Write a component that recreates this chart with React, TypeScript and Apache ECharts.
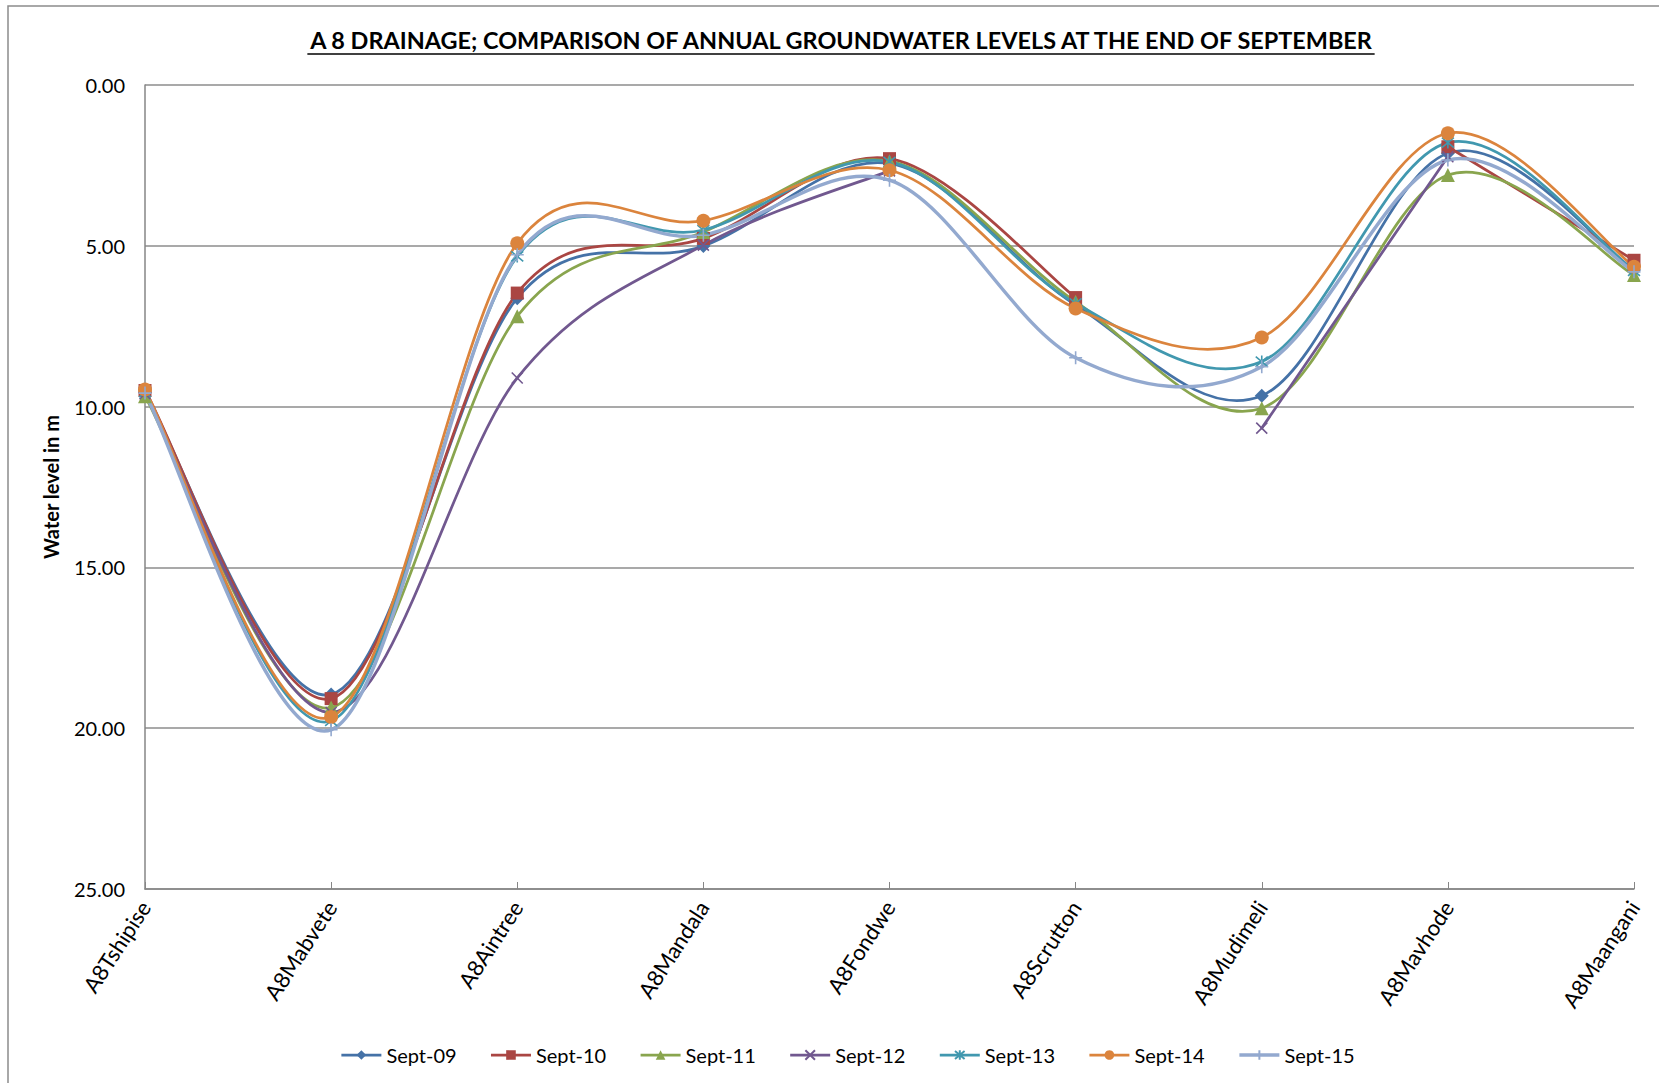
import React, { useEffect, useRef } from "react";
import * as echarts from "echarts";

const categories = [
  "A8Tshipise",
  "A8Mabvete",
  "A8Aintree",
  "A8Mandala",
  "A8Fondwe",
  "A8Scrutton",
  "A8Mudimeli",
  "A8Mavhode",
  "A8Maangani",
];

const sept09 = [9.55, 18.95, 6.63, 5.01, 2.44, 6.84, 9.66, 2.12, 5.75];
const sept10 = [9.5, 19.08, 6.47, 4.77, 2.29, 6.61, null, 1.92, 5.45];
const sept11 = [9.68, 19.36, 7.19, 4.57, 2.37, 6.74, 10.05, 2.8, 5.91];
const sept12 = [9.6, 19.51, 9.11, 4.98, 2.67, null, 10.67, 2.23, null];
const sept13 = [9.55, 19.77, 5.33, 4.51, 2.39, 6.79, 8.6, 1.79, 5.78];
const sept14 = [9.47, 19.65, 4.92, 4.22, 2.65, 6.95, 7.85, 1.5, 5.65];
const sept15 = [9.58, 20.05, 5.28, 4.67, 2.96, 8.48, 8.76, 2.33, 5.81];

const seriesNames = ["Sept-09", "Sept-10", "Sept-11", "Sept-12", "Sept-13", "Sept-14", "Sept-15"];
const seriesData: (number | null)[][] = [sept09, sept10, sept11, sept12, sept13, sept14, sept15];
const colors = ["#4572A7", "#AA4643", "#89A54E", "#71588F", "#4198AF", "#DB843D", "#93A9CF"];
const symbols = [
  "diamond",
  "rect",
  "triangle",
  "path://M0,0L10,10M10,0L0,10",
  "path://M0,0L10,10M10,0L0,10M5,-1L5,11",
  "circle",
  "path://M5,0L5,10M0,5L10,5",
];
const symbolSizes = [14, 13, 14, 11, 12, 14, 13];
const isStroked = [false, false, false, true, true, false, true];
const lineWidths = [2.75, 2.75, 2.75, 2.75, 2.75, 2.75, 3.5];

const TITLE = "A 8 DRAINAGE; COMPARISON OF ANNUAL GROUNDWATER LEVELS AT THE END OF SEPTEMBER";
const FONT = "Lato, 'Open Sans', sans-serif";

export default function App() {
  const ref = useRef<HTMLDivElement>(null);

  useEffect(() => {
    if (!ref.current) return;
    const chart = echarts.init(ref.current, undefined, { renderer: "svg" });

    const ctx = document.createElement("canvas").getContext("2d");
    let titleSize = 22;
    let titleWidth = 1068;
    if (ctx) {
      ctx.font = `bold 100px Lato`;
      const w = ctx.measureText(TITLE).width;
      titleSize = (100 * 1068) / w;
      ctx.font = `bold ${titleSize}px Lato`;
      titleWidth = ctx.measureText(TITLE).width;
    }
    const titleCx = 841;
    const titleCy = 40;

    const series: any[] = [];
    seriesNames.forEach((name, k) => {
      const vals = seriesData[k];
      const n = vals.length;
      // smoothed curve (Catmull-Rom style Bezier, like the spreadsheet's smoothing)
      series.push({
        name: name + " curve",
        type: "custom",
        silent: true,
        data: vals.map((v, i) => [i, v == null ? "-" : v]),
        renderItem: (params: any, api: any) => {
          const i = params.dataIndex;
          if (vals[i] == null || i + 1 >= n || vals[i + 1] == null) return null;
          const pt = (j: number) => api.coord([j, vals[j]]);
          const p1 = pt(i);
          const p2 = pt(i + 1);
          const p0 = i - 1 >= 0 && vals[i - 1] != null ? pt(i - 1) : p1;
          const p3 = i + 2 < n && vals[i + 2] != null ? pt(i + 2) : p2;
          return {
            type: "bezierCurve",
            shape: {
              x1: p1[0],
              y1: p1[1],
              x2: p2[0],
              y2: p2[1],
              cpx1: p1[0] + (p2[0] - p0[0]) / 6,
              cpy1: p1[1] + (p2[1] - p0[1]) / 6,
              cpx2: p2[0] - (p3[0] - p1[0]) / 6,
              cpy2: p2[1] - (p3[1] - p1[1]) / 6,
            },
            style: { stroke: colors[k], lineWidth: lineWidths[k], fill: "none", lineCap: "round" },
          };
        },
      });
      // markers (and legend entry)
      series.push({
        name,
        type: "line",
        data: vals,
        connectNulls: false,
        symbol: symbols[k],
        symbolSize: symbolSizes[k],
        showAllSymbol: true,
        lineStyle: { color: colors[k], width: lineWidths[k], opacity: 0 },
        itemStyle: isStroked[k]
          ? { color: colors[k], borderColor: colors[k], borderWidth: 1.6 }
          : { color: colors[k], borderWidth: 0 },
        emphasis: { disabled: true },
      });
    });

    chart.setOption({
      animation: false,
      textStyle: { fontFamily: FONT },
      grid: { left: 145, right: 25, top: 85, bottom: 194, containLabel: false },
      graphic: [
        {
          type: "rect",
          shape: { x: 8, y: 6, width: 1700, height: 1200 },
          style: { fill: "none", stroke: "#8c8c8c", lineWidth: 1.5 },
          silent: true,
        },
        {
          type: "text",
          x: titleCx,
          y: titleCy,
          style: {
            text: TITLE,
            font: `bold ${titleSize}px Lato`,
            fill: "#000",
            align: "center",
            verticalAlign: "middle",
          },
        },
        {
          type: "line",
          shape: {
            x1: titleCx - titleWidth / 2,
            y1: titleCy + titleSize * 0.6,
            x2: titleCx + titleWidth / 2,
            y2: titleCy + titleSize * 0.6,
          },
          style: { stroke: "#000", lineWidth: 1.5 },
        },
      ],
      legend: {
        data: seriesNames.map((name, k) => ({
          name,
          lineStyle: { opacity: 1, width: lineWidths[k], color: colors[k] },
        })),
        left: 335,
        top: 1040,
        itemWidth: 40,
        itemHeight: 12,
        itemGap: 33,
        lineStyle: { opacity: 1 },
        textStyle: { fontSize: 20, color: "#000", fontFamily: FONT },
      },
      xAxis: {
        type: "category",
        data: categories,
        boundaryGap: false,
        axisLine: { onZero: false, lineStyle: { color: "#868686", width: 1.5 } },
        axisTick: { show: true, inside: true, length: 7, lineStyle: { color: "#868686", width: 1 } },
        axisLabel: {
          rotate: 57,
          margin: 14,
          fontSize: 22,
          color: "#000",
          fontFamily: FONT,
          interval: 0,
        },
        splitLine: { show: false },
      },
      yAxis: {
        type: "value",
        inverse: true,
        min: 0,
        max: 25,
        interval: 5,
        name: "Water level in m",
        nameLocation: "middle",
        nameGap: 84,
        nameTextStyle: { fontSize: 20, fontWeight: "bold", color: "#000", fontFamily: FONT },
        axisLine: { show: true, lineStyle: { color: "#868686", width: 1.5 } },
        axisTick: { show: false },
        axisLabel: {
          margin: 20,
          fontSize: 20,
          color: "#000",
          fontFamily: FONT,
          formatter: (v: number) => v.toFixed(2),
        },
        splitLine: { show: true, lineStyle: { color: "#8c8c8c", width: 1.5 } },
      },
      series,
    });

    return () => {
      chart.dispose();
    };
  }, []);

  return (
    <div
      ref={ref}
      style={{ position: "fixed", left: 0, top: 0, width: 1659, height: 1083, background: "#fff" }}
    />
  );
}
